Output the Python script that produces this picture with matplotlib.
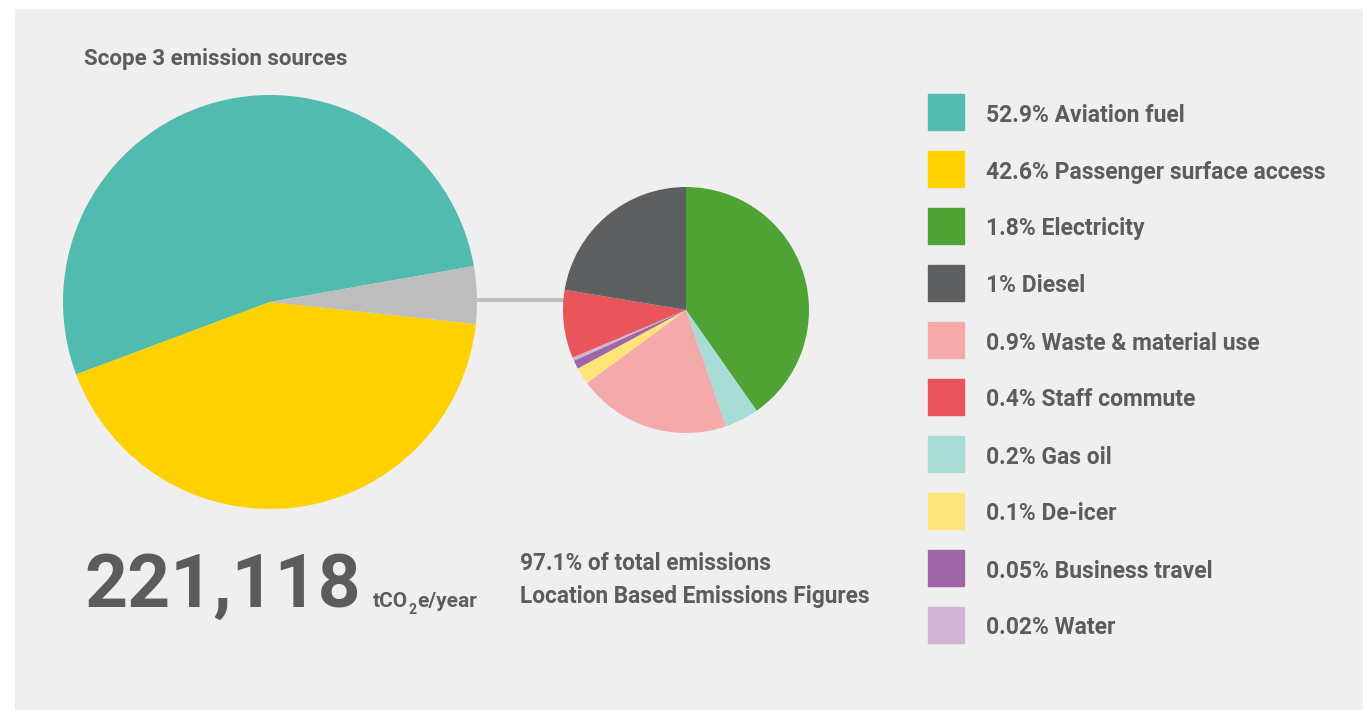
import matplotlib
matplotlib.use("Agg")
import matplotlib.pyplot as plt
from matplotlib.patches import Rectangle

plt.rcParams["font.family"] = ["Roboto", "DejaVu Sans"]

# Scope 3 sources, % of total emissions
main_labels = ["Aviation fuel", "Passenger surface access"]
main_values = [52.9, 42.6]
main_colors = ["#52bbb0", "#ffd100"]

minor_labels = ["Electricity", "Gas oil", "Waste & material use", "De-icer",
                "Business travel", "Water", "Staff commute", "Diesel"]
minor_values = [1.8, 0.2, 0.9, 0.1, 0.05, 0.02, 0.4, 1.0]
minor_colors = ["#4fa334", "#a8dcd7", "#f4a9ab", "#ffe47a",
                "#a065a6", "#d2b4d4", "#ea555b", "#5e5f61"]

# legend order (top to bottom)
legend_labels = ["Aviation fuel", "Passenger surface access", "Electricity", "Diesel",
                 "Waste & material use", "Staff commute", "Gas oil", "De-icer",
                 "Business travel", "Water"]
legend_values = ["52.9%", "42.6%", "1.8%", "1%", "0.9%", "0.4%", "0.2%", "0.1%",
                 "0.05%", "0.02%"]

total_tco2e = "221,118"
other_color = "#bdbdbd"
text_color = "#5b5c5e"
label_weight = 600

W, H = 1363, 710
fig = plt.figure(figsize=(W / 100, H / 100), dpi=100, facecolor="white")
ax = fig.add_axes([0, 0, 1, 1])

ax.add_patch(Rectangle((15, 0), W - 15, H - 9, color="#efefef", zorder=0))

# connector between the two pies
ax.plot([470, 575], [410, 410], color="#c0c0c0", lw=3, solid_capstyle="butt", zorder=1)

other_total = sum(minor_values)
ax.pie(main_values + [other_total], colors=main_colors + [other_color],
       startangle=10, counterclock=True, center=(270, 408), radius=207,
       wedgeprops=dict(linewidth=0), frame=True)
ax.pie(minor_values, colors=minor_colors, startangle=90, counterclock=False,
       center=(686, 400), radius=123, wedgeprops=dict(linewidth=0), frame=True)
ax.set_xlim(0, W)
ax.set_ylim(0, H)
ax.set_aspect("equal")
ax.axis("off")

ax.text(84, H - 59, "Scope 3 emission sources", fontsize=16, fontweight=label_weight,
        color=text_color, va="center", ha="left")

# legend
color_lookup = dict(zip(main_labels + minor_labels, main_colors + minor_colors))
for i, (lab, val) in enumerate(zip(legend_labels, legend_values)):
    yc = H - (112 + 57 * i)
    ax.add_patch(Rectangle((928, yc - 18), 36, 36, color=color_lookup[lab], zorder=2))
    ax.text(986, yc - 3, f"{val} {lab}", fontsize=16.5, fontweight=label_weight,
            color=text_color, va="center", ha="left")

# headline total
big = ax.text(84, H - 607, total_tco2e, fontsize=54, fontweight="bold",
              color=text_color, va="baseline", ha="left")
fig.canvas.draw()
r = fig.canvas.get_renderer()
inv = ax.transData.inverted()
x0 = inv.transform(big.get_window_extent(r))[1][0] + 12
t1 = ax.text(x0, H - 607, "tCO", fontsize=15, fontweight=label_weight,
             color=text_color, va="baseline", ha="left")
x1 = inv.transform(t1.get_window_extent(r))[1][0] + 1
t2 = ax.text(x1, H - 614, "2", fontsize=10, fontweight=label_weight,
             color=text_color, va="baseline", ha="left")
x2 = inv.transform(t2.get_window_extent(r))[1][0] + 1
ax.text(x2, H - 607, "e/year", fontsize=15, fontweight=label_weight,
        color=text_color, va="baseline", ha="left")

ax.text(520, H - 563, "97.1% of total emissions", fontsize=16.3,
        fontweight=label_weight, color=text_color, va="center", ha="left")
ax.text(520, H - 597, "Location Based Emissions Figures", fontsize=16.3,
        fontweight=label_weight, color=text_color, va="center", ha="left")

fig.savefig("out.png", dpi=100, facecolor="white")
